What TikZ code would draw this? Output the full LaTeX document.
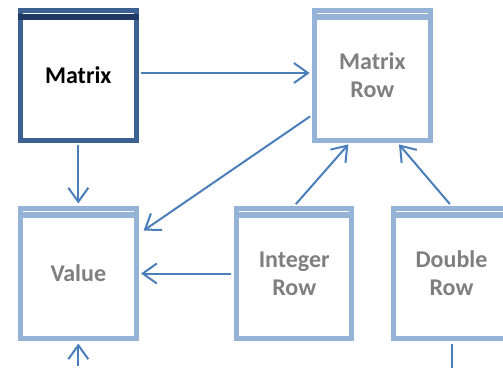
\documentclass[tikz,border=0pt]{standalone}
\usepackage{fontspec}
\setmainfont{Carlito}
\usetikzlibrary{arrows.meta}
\definecolor{lightframe}{HTML}{95B3D7}
\definecolor{darkframe}{HTML}{3B6192}
\definecolor{darkbar}{HTML}{1F3864}
\definecolor{linkblue}{HTML}{4A7EBB}
\definecolor{labelgray}{HTML}{7F7F7F}
\tikzset{
  classbox/.style={draw=lightframe, line width=5pt, fill=white,
    minimum width=115.5pt, minimum height=130pt, inner sep=0pt,
    align=center, text=labelgray,
    font=\bfseries\fontsize{24}{28}\selectfont},
  mainbox/.style={classbox, draw=darkframe, text=black},
  link/.style={draw=linkblue, line width=2pt,
    -{Straight Barb[length=14pt,width=20pt,line width=2pt]},
    shorten >=2.5pt, shorten <=2.5pt},
  plainlink/.style={draw=linkblue, line width=2pt}
}
\begin{document}
\begin{tikzpicture}[x=1pt,y=-1pt]
\useasboundingbox (0,0) rectangle (503,368);

% class boxes
\node[mainbox]  (matrix) at (78.3,75)    {Matrix};
\node[classbox] (mrow)   at (372.4,75)   {Matrix\\Row};
\node[classbox] (value)  at (78.3,273.5) {Value};
\node[classbox] (irow)   at (294.2,273.5){Integer\\Row};
\node[classbox] (drow)   at (451.5,273.5){Double\\Row};

% header bars under the top edge
\fill[darkbar] ([yshift=-6pt]matrix.north west) rectangle ([yshift=-12pt]matrix.north east);
\foreach \b in {mrow,value,irow,drow}
  \fill[lightframe] ([yshift=-6pt]\b.north west) rectangle ([yshift=-12pt]\b.north east);

% loose ends leaving the picture
\coordinate (valuein) at (78.3,368);
\coordinate (drowout) at (451.5,368);

% connectors
\draw[link] ([yshift=2pt]matrix.east) -- ([yshift=2pt]mrow.west);
\draw[link] (matrix.south) -- (value.north);
\draw[link] ([yshift=-40pt]mrow.west) -- ([xshift=3pt,yshift=41.5pt]value.east);
\draw[link] (irow.west) -- (value.east);
\draw[link] (irow.north) -- ([xshift=-22.4pt]mrow.south);
\draw[link] (drow.north) -- ([xshift=25pt]mrow.south);
\draw[link] (valuein) -- (value.south);
\draw[plainlink] ([yshift=-2.5pt]drow.south) -- (drowout);
\end{tikzpicture}
\end{document}
